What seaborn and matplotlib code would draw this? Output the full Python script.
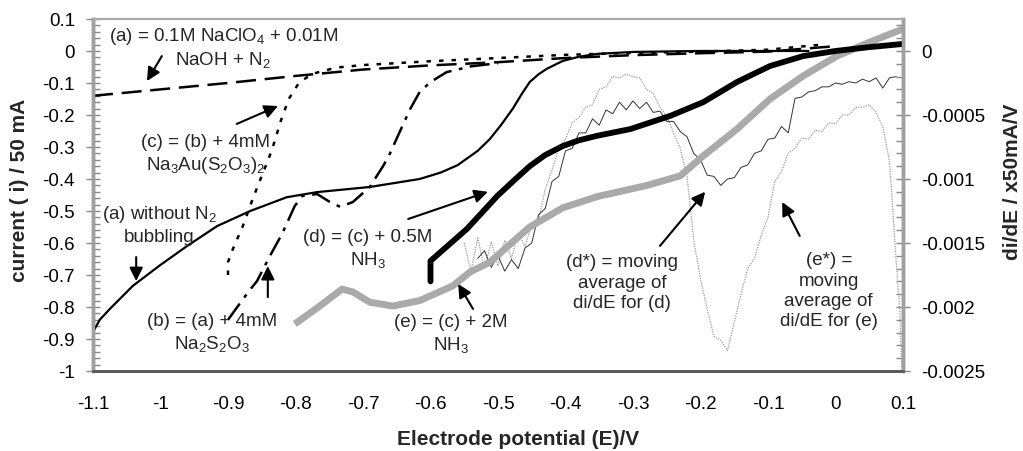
import numpy as np
import pandas as pd
import matplotlib
matplotlib.use("Agg")
import matplotlib.pyplot as plt
import seaborn as sns
from matplotlib.ticker import MultipleLocator, FormatStrFormatter

sns.set_style("white")
plt.rcParams['font.family'] = ['Liberation Sans', 'DejaVu Sans']
plt.rcParams['mathtext.fontset'] = 'custom'
plt.rcParams['mathtext.rm'] = 'Liberation Sans'
plt.rcParams['mathtext.it'] = 'Liberation Sans:italic'
plt.rcParams['mathtext.bf'] = 'Liberation Sans:bold'
plt.rcParams['axes.unicode_minus'] = False

# (a) 0.1M NaClO4 + 0.01M NaOH + N2  (dashed)
a_x = [-1.1, -1.0, -0.9, -0.8, -0.7, -0.6, -0.5, -0.4, -0.3, -0.2, -0.1, 0.0]
a_y = [-0.14, -0.12, -0.10, -0.078, -0.058, -0.045, -0.035, -0.022, -0.013, -0.007, -0.002, 0.015]

# (a) without N2 bubbling (thin solid)
a2_x = [-1.1, -1.09, -1.075, -1.041, -1.001, -0.961, -0.916, -0.867, -0.813, -0.768, -0.69,
        -0.616, -0.585, -0.56, -0.53, -0.512, -0.495, -0.478, -0.465, -0.453, -0.44, -0.428,
        -0.404, -0.38, -0.353, -0.3, -0.2, -0.1, -0.04]
a2_y = [-0.878, -0.84, -0.806, -0.734, -0.67, -0.61, -0.547, -0.50, -0.457, -0.441, -0.425,
        -0.40, -0.38, -0.357, -0.312, -0.275, -0.23, -0.18, -0.135, -0.097, -0.073, -0.056,
        -0.031, -0.018, -0.009, -0.003, 0.0, 0.0, 0.0]

# (b) = (a) + 4mM Na2S2O3 (dash-dot)
b_x = [-0.9, -0.87, -0.857, -0.838, -0.82, -0.801, -0.79, -0.768, -0.749, -0.734, -0.715,
       -0.69, -0.67, -0.66, -0.645, -0.63, -0.616, -0.6, -0.576, -0.54, -0.5]
b_y = [-0.84, -0.753, -0.719, -0.641, -0.572, -0.484, -0.453, -0.447, -0.472, -0.487, -0.472,
       -0.425, -0.359, -0.32, -0.25, -0.181, -0.128, -0.097, -0.066, -0.048, -0.038]

# (c) = (b) + 4mM Na3Au(S2O3)2 (dotted)
c_x = [-0.9, -0.9, -0.893, -0.878, -0.863, -0.848, -0.835, -0.822, -0.81, -0.795, -0.776,
       -0.74, -0.7, -0.6, -0.5, -0.4, -0.3, -0.2, -0.1, -0.02]
c_y = [-0.70, -0.66, -0.62, -0.547, -0.46, -0.38, -0.31, -0.22, -0.15, -0.10, -0.072,
       -0.052, -0.044, -0.032, -0.022, -0.012, -0.006, -0.002, 0.004, 0.02]

# (d) = (c) + 0.5M NH3 (thick solid)
d_x = [-0.6, -0.6, -0.546, -0.501, -0.475, -0.453, -0.43, -0.404, -0.38, -0.353, -0.304,
       -0.245, -0.196, -0.146, -0.097, -0.048, 0.0, 0.05, 0.1]
d_y = [-0.72, -0.656, -0.556, -0.453, -0.402, -0.36, -0.325, -0.297, -0.279, -0.265, -0.244,
       -0.203, -0.16, -0.097, -0.047, -0.016, 0.0, 0.012, 0.022]

# (e) = (c) + 2M NH3 (grey band)
e_x = [-0.801, -0.764, -0.731, -0.715, -0.69, -0.656, -0.616, -0.567, -0.541, -0.512, -0.48,
       -0.453, -0.404, -0.353, -0.279, -0.23, -0.196, -0.146, -0.097, -0.048, 0.002, 0.051, 0.1]
e_y = [-0.853, -0.797, -0.744, -0.753, -0.785, -0.797, -0.78, -0.734, -0.69, -0.66, -0.6,
       -0.55, -0.49, -0.455, -0.42, -0.39, -0.328, -0.244, -0.15, -0.078, -0.016, 0.028, 0.069]

# (d*) moving average of di/dE for (d), right axis, units of 1e-4 mA/V
dstar_x = [-0.53, -0.52, -0.51, -0.50, -0.49, -0.48, -0.47, -0.46, -0.45, -0.44, -0.43, -0.42,
           -0.41, -0.40, -0.39, -0.38, -0.37, -0.36, -0.35, -0.34, -0.33, -0.32, -0.31, -0.30,
           -0.29, -0.28, -0.27, -0.26, -0.25, -0.24, -0.23, -0.22, -0.21, -0.20, -0.19, -0.18,
           -0.17, -0.16, -0.15, -0.14, -0.13, -0.12, -0.11, -0.10, -0.09, -0.08, -0.07, -0.06,
           -0.05, -0.04, -0.03, -0.02, -0.01, 0.00, 0.01, 0.02, 0.03, 0.04, 0.05, 0.06, 0.07,
           0.08, 0.09]
dstar_y = [-16.2, -15.6, -16.9, -16.0, -17.2, -16.3, -17.0, -15.4, -15.0, -12.8, -12.3, -10.2,
           -9.8, -7.8, -7.6, -6.4, -6.4, -5.3, -5.8, -4.6, -4.9, -4.0, -4.6, -3.9,
           -4.5, -4.0, -4.8, -4.7, -5.5, -5.5, -6.3, -6.7, -8.0, -8.5, -9.7, -9.8,
           -10.5, -10.0, -9.9, -9.1, -8.9, -8.0, -7.8, -6.9, -6.8, -5.9, -6.4, -3.7,
           -3.6, -3.2, -3.1, -2.8, -2.8, -2.5, -2.6, -2.4, -2.5, -2.2, -2.4, -2.1, -2.9,
           -2.1, -2.0]

# (e*) moving average of di/dE for (e), right axis, units of 1e-4 mA/V
estar_x = [-0.55, -0.54, -0.53, -0.52, -0.51, -0.50, -0.49, -0.48, -0.47, -0.46, -0.45, -0.44,
           -0.43, -0.42, -0.41, -0.40, -0.39, -0.38, -0.37, -0.36, -0.35, -0.34, -0.33, -0.32,
           -0.31, -0.30, -0.29, -0.28, -0.27, -0.26, -0.25, -0.24, -0.23, -0.22, -0.21, -0.20,
           -0.19, -0.18, -0.17, -0.16, -0.15, -0.14, -0.13, -0.12, -0.11, -0.10, -0.09, -0.08,
           -0.07, -0.06, -0.05, -0.04, -0.03, -0.02, -0.01, 0.00, 0.01, 0.02, 0.03, 0.04, 0.05,
           0.06, 0.07, 0.08, 0.09, 0.095, 0.098]
estar_y = [-15.0, -17.2, -14.6, -17.0, -14.9, -16.8, -14.8, -16.2, -14.2, -15.3, -13.5, -13.2,
           -10.8, -9.3, -7.6, -6.9, -5.6, -5.2, -4.4, -4.2, -3.0, -2.8, -2.0, -2.1,
           -1.8, -2.0, -2.1, -3.0, -3.3, -4.4, -5.1, -6.4, -7.6, -9.8, -14.8, -17.8,
           -20.2, -22.3, -22.6, -23.4, -21.2, -19.0, -17.0, -16.2, -14.4, -13.0, -10.2, -9.4,
           -8.0, -7.6, -6.8, -6.9, -6.2, -6.3, -5.6, -5.7, -5.0, -5.0, -4.4, -4.4, -4.2,
           -4.8, -5.9, -8.6, -16.5, -20.0, -24.8]

fig = plt.figure(figsize=(10.23, 4.52), dpi=100)
ax = fig.add_subplot(111)
fig.subplots_adjust(left=0.0909, right=0.8827, bottom=0.177, top=0.9558)
ax2 = ax.twinx()

def draw(axis, x, y, **kw):
    df = pd.DataFrame({"x": x, "y": y})
    sns.lineplot(data=df, x="x", y="y", ax=axis, sort=False, estimator=None, legend=False, **kw)

# right axis (derivatives) behind the currents
ax.set_zorder(ax2.get_zorder() + 1)
ax.patch.set_visible(False)
draw(ax2, estar_x, np.array(estar_y) * 1e-4, color='#9a9a9a', lw=0.9, linestyle=(0, (1, 1)))
draw(ax2, dstar_x, np.array(dstar_y) * 1e-4, color='#333333', lw=0.7)

draw(ax, e_x, e_y, color='#aaaaaa', lw=5, solid_capstyle='butt', solid_joinstyle='round')
draw(ax, a_x, a_y, color='black', lw=1.8, linestyle=(0, (8, 3.5)))
draw(ax, c_x, c_y, color='black', lw=1.8, linestyle=(0, (1.8, 3.2)))
draw(ax, b_x, b_y, color='black', lw=1.8, linestyle=(0, (8, 3, 1.5, 3)))
draw(ax, a2_x, a2_y, color='black', lw=1.6, solid_joinstyle='round')
draw(ax, d_x, d_y, color='black', lw=4.2, solid_joinstyle='round')

ax.set_xlim(-1.1, 0.1)
ax.set_ylim(-1.0, 0.1)
ax2.set_ylim(-0.0025, 0.00025)

ax.xaxis.set_major_locator(MultipleLocator(0.1))
ax.xaxis.set_minor_locator(MultipleLocator(0.02))
ax.yaxis.set_major_locator(MultipleLocator(0.1))
ax.yaxis.set_minor_locator(MultipleLocator(0.02))
ax.xaxis.set_major_formatter(FormatStrFormatter('%g'))
ax.yaxis.set_major_formatter(FormatStrFormatter('%g'))
ax2.set_yticks([0, -0.0005, -0.001, -0.0015, -0.002, -0.0025])
ax2.set_yticklabels(['0', '-0.0005', '-0.001', '-0.0015', '-0.002', '-0.0025'])
ax2.yaxis.set_minor_locator(MultipleLocator(0.0001))

ax.set_xlabel('')
ax.set_ylabel('')
ax2.set_ylabel('')

ax.tick_params(axis='x', which='major', direction='inout', length=10, width=1, colors='#555555',
               labelcolor='black', labelsize=13.5, pad=12)
ax.tick_params(axis='x', which='minor', direction='in', length=5, width=1, colors='#555555')
ax.tick_params(axis='y', which='major', direction='inout', length=10, width=1, colors='#888888',
               labelcolor='black', labelsize=13.5, pad=8)
ax.tick_params(axis='y', which='minor', direction='in', length=5, width=1, colors='#888888')
ax2.tick_params(axis='y', which='major', direction='inout', length=10, width=1, colors='#888888',
                labelcolor='black', labelsize=13.5, pad=8)
ax2.tick_params(axis='y', which='minor', direction='in', length=5, width=1, colors='#888888')

for a in (ax, ax2):
    a.spines['top'].set_color('#aaaaaa')
    a.spines['top'].set_linewidth(1.5)
    a.spines['left'].set_color('#a0a0a0')
    a.spines['left'].set_linewidth(2.5)
    a.spines['right'].set_color('#a0a0a0')
    a.spines['right'].set_linewidth(2.5)
    a.spines['bottom'].set_color('#555555')
    a.spines['bottom'].set_linewidth(1.8)

fs = 13.5
ls = 1.25
arrow = dict(arrowstyle='-|>', color='black', lw=1.5, mutation_scale=20, shrinkA=0, shrinkB=0)

ax.text(-0.907, 0.0125, '(a) = 0.1M NaClO$_4$ + 0.01M\nNaOH + N$_2$', ha='center', va='center',
        fontsize=fs, linespacing=ls)
ax.annotate('', xy=(-1.02, -0.094), xytext=(-0.998, -0.016), arrowprops=arrow)

ax.text(-0.933, -0.322, '(c) = (b) + 4mM\nNa$_3$Au(S$_2$O$_3$)$_2$', ha='center', va='center',
        fontsize=fs, linespacing=ls)
ax.annotate('', xy=(-0.826, -0.172), xytext=(-0.887, -0.228), arrowprops=arrow)

ax.text(-1.002, -0.541, '(a) without N$_2$\nbubbling', ha='center', va='center',
        fontsize=fs, linespacing=ls)
ax.annotate('', xy=(-1.036, -0.719), xytext=(-1.036, -0.644), arrowprops=arrow)

ax.text(-0.924, -0.880, '(b) = (a) + 4mM\nNa$_2$S$_2$O$_3$', ha='center', va='center',
        fontsize=fs, linespacing=ls)
ax.annotate('', xy=(-0.841, -0.672), xytext=(-0.841, -0.769), arrowprops=arrow)

ax.text(-0.693, -0.617, '(d) = (c) + 0.5M\nNH$_3$', ha='center', va='center',
        fontsize=fs, linespacing=ls)
ax.annotate('', xy=(-0.515, -0.44), xytext=(-0.633, -0.525), arrowprops=arrow)

ax.text(-0.570, -0.883, '(e) = (c) + 2M\nNH$_3$', ha='center', va='center',
        fontsize=fs, linespacing=ls)
ax.annotate('', xy=(-0.559, -0.728), xytext=(-0.537, -0.806), arrowprops=arrow)

ax.text(-0.316, -0.722, '(d*) = moving\naverage of\ndi/dE for (d)', ha='center', va='center',
        fontsize=fs, linespacing=ls)
ax.annotate('', xy=(-0.193, -0.44), xytext=(-0.260, -0.609), arrowprops=arrow)

ax.text(-0.010, -0.748, '(e*) =\nmoving\naverage of\ndi/dE for (e)', ha='center', va='center',
        fontsize=fs, linespacing=ls)
ax.annotate('', xy=(-0.079, -0.472), xytext=(-0.053, -0.578), arrowprops=arrow)

fig.text(20 / 1023, 1 - 190 / 452, 'current ( i) / 50 mA', rotation=90, ha='center', va='center',
         fontsize=15, fontweight='bold')
fig.text(1013 / 1023, 1 - 182 / 452, 'di/dE / x50mA/V', rotation=90, ha='center', va='center',
         fontsize=15, fontweight='bold')
fig.text(518 / 1023, 1 - 440 / 452, 'Electrode potential (E)/V', ha='center', va='center',
         fontsize=15, fontweight='bold')

fig.savefig('out.png', dpi=100)
